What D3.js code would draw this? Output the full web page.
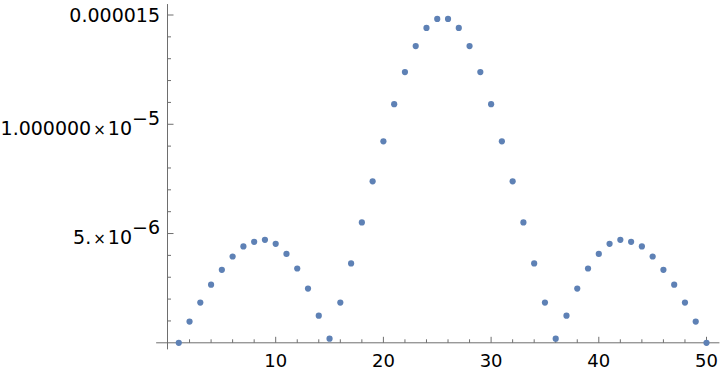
<!DOCTYPE html>
<html>
<head>
<meta charset="utf-8">
<script src="https://cdn.jsdelivr.net/npm/d3@7"></script>
<style>
  html, body { margin: 0; padding: 0; background: #fff; }
  svg { display: block; font-family: "DejaVu Sans", sans-serif; }
</style>
</head>
<body>
<svg id="chart" width="720" height="374"></svg>
<script>
// ---- data (values in units of 1e-6) ----
const xValues = [1,2,3,4,5,6,7,8,9,10,11,12,13,14,15,16,17,18,19,20,21,22,23,24,25,
                 26,27,28,29,30,31,32,33,34,35,36,37,38,39,40,41,42,43,44,45,46,47,48,49,50];
const yValuesMicro = [0, 0.97, 1.84, 2.66, 3.34, 3.95, 4.41, 4.62, 4.71, 4.53,
                      4.07, 3.40, 2.48, 1.24, 0.19, 1.84, 3.63, 5.51, 7.39, 9.22,
                      10.92, 12.39, 13.58, 14.41, 14.82, 14.82, 14.41, 13.58, 12.39, 10.92,
                      9.22, 7.39, 5.51, 3.63, 1.84, 0.19, 1.24, 2.48, 3.40, 4.07,
                      4.53, 4.71, 4.62, 4.41, 3.95, 3.34, 2.66, 1.84, 0.97, 0];
const xMajorTicks = [10, 20, 30, 40, 50];
const xMinorTicks = [2,4,6,8,12,14,16,18,22,24,26,28,32,34,36,38,42,44,46,48];
const yMajorTicks = [5e-6, 1e-5, 1.5e-5];
const yMinorTicks = [1e-6,2e-6,3e-6,4e-6,6e-6,7e-6,8e-6,9e-6,1.1e-5,1.2e-5,1.3e-5,1.4e-5];
// tick labels: [mantissa, exponent or null]
const yTickLabels = [["5.", "-6"], ["1.000000", "-5"], ["0.000015", null]];

const data = xValues.map((x, i) => ({ x: x, y: yValuesMicro[i] * 1e-6 }));

const svg = d3.select("#chart");
const x = d3.scaleLinear().domain([0, 50]).range([168, 706.5]);
const y = d3.scaleLinear().domain([0, 1.5e-5]).range([342.8, 15]);

const axisColor = "#6e6e6e";
const x0 = 167.5;      // y-axis position
const y0 = y(0);       // x-axis position

// axis lines
svg.append("line")
  .attr("x1", x(-1.1)).attr("x2", x(51.2))
  .attr("y1", y0).attr("y2", y0)
  .attr("stroke", axisColor).attr("stroke-width", 1);
svg.append("line")
  .attr("x1", x0).attr("x2", x0)
  .attr("y1", y(1.55e-5)).attr("y2", y(-0.3e-6))
  .attr("stroke", axisColor).attr("stroke-width", 1);

// x ticks
svg.selectAll(".xmaj").data(xMajorTicks).enter().append("line")
  .attr("x1", d => x(d)).attr("x2", d => x(d))
  .attr("y1", y0).attr("y2", y0 - 6)
  .attr("stroke", axisColor).attr("stroke-width", 1);
svg.selectAll(".xmin").data(xMinorTicks).enter().append("line")
  .attr("x1", d => x(d)).attr("x2", d => x(d))
  .attr("y1", y0).attr("y2", y0 - 3.5)
  .attr("stroke", axisColor).attr("stroke-width", 1);
svg.selectAll(".xlab").data(xMajorTicks).enter().append("text")
  .attr("x", d => x(d)).attr("y", 367)
  .attr("text-anchor", "middle")
  .attr("font-size", 18).attr("fill", "#000")
  .text(d => d);

// y ticks
svg.selectAll(".ymaj").data(yMajorTicks).enter().append("line")
  .attr("x1", x0).attr("x2", x0 + 6)
  .attr("y1", d => y(d)).attr("y2", d => y(d))
  .attr("stroke", axisColor).attr("stroke-width", 1);
svg.selectAll(".ymin").data(yMinorTicks).enter().append("line")
  .attr("x1", x0).attr("x2", x0 + 3.5)
  .attr("y1", d => y(d)).attr("y2", d => y(d))
  .attr("stroke", axisColor).attr("stroke-width", 1);

yMajorTicks.forEach((v, i) => {
  const [mant, exp] = yTickLabels[i];
  const t = svg.append("text")
    .attr("x", 160)
    .attr("text-anchor", "end")
    .attr("font-size", 19).attr("fill", "#000");
  if (exp === null) {
    t.attr("y", y(v) + 6.9).text(mant);
  } else {
    t.attr("y", y(v) + 10.6);
    t.append("tspan").text(mant);
    t.append("tspan").attr("font-size", 15).attr("dx", 2).text("\u00d7");
    t.append("tspan").attr("dx", 2).text("10");
    t.append("tspan").attr("dy", -9.8).text(exp.replace("-", "\u2212"));
  }
});

// points
svg.selectAll(".pt").data(data).enter().append("circle")
  .attr("cx", d => x(d.x)).attr("cy", d => y(d.y))
  .attr("r", 3.1)
  .attr("fill", "rgb(94,129,181)");
</script>
</body>
</html>
